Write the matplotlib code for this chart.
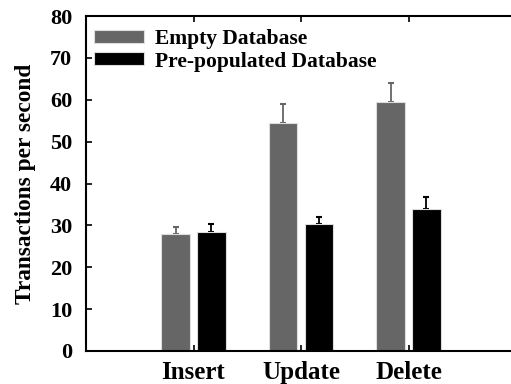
import matplotlib
matplotlib.use("Agg")
import matplotlib.pyplot as plt
import numpy as np

categories = ["Insert", "Update", "Delete"]
empty_vals = [27.9, 54.5, 59.5]
empty_err = [1.8, 4.4, 4.6]
prepop_vals = [28.3, 30.3, 34.0]
prepop_err = [2.0, 1.8, 2.8]
series_labels = ["Empty Database", "Pre-populated Database"]

plt.rcParams['font.family'] = ['Liberation Serif', 'DejaVu Serif']
plt.rcParams['font.weight'] = 'bold'

fig = plt.figure(figsize=(5.11, 3.84), dpi=100)
ax = fig.add_axes([86/511, 1-351/384, 430/511, 335/384])

x = np.arange(1, len(categories) + 1)
w = 0.266
off = 0.166
ax.bar(x - off, empty_vals, w, color='#666666', edgecolor='#dddddd', linewidth=0.8,
       label=series_labels[0], zorder=2)
ax.bar(x + off, prepop_vals, w, color='#000000', edgecolor='#dddddd', linewidth=0.8,
       label=series_labels[1], zorder=2)
ax.errorbar(x - off, empty_vals, yerr=[np.zeros(3), empty_err], fmt='none',
            ecolor='#666666', elinewidth=1.3, capsize=2.2, capthick=1.5, zorder=1)
ax.errorbar(x + off, prepop_vals, yerr=[np.zeros(3), prepop_err], fmt='none',
            ecolor='#000000', elinewidth=1.3, capsize=2.2, capthick=1.5, zorder=1)

ax.set_xlim(0, 4)
ax.set_ylim(0, 80)
ax.set_yticks(range(0, 81, 10))
ax.set_xticks(x)
ax.set_xticklabels(categories, fontsize=18, fontweight='bold')
ax.tick_params(axis='y', labelsize=16, direction='in', length=4, width=1.2, pad=10,
               right=False)
ax.tick_params(axis='x', direction='in', length=4, width=1.2, pad=7, top=True)
for lab in ax.get_yticklabels():
    lab.set_fontweight('bold')
for s in ['left', 'bottom', 'top']:
    ax.spines[s].set_linewidth(1.5)
ax.spines['right'].set_visible(False)

ax.set_ylabel("Transactions per second", fontsize=16.8, fontweight='bold', labelpad=10)

leg = ax.legend(loc='upper left', bbox_to_anchor=(0.0, 0.985), frameon=False,
                fontsize=15.5, handlelength=2.33, handleheight=0.55,
                handletextpad=0.5, labelspacing=0.12, borderaxespad=0.0,
                borderpad=0.37)
for t in leg.get_texts():
    t.set_fontweight('bold')

fig.savefig("out.png", dpi=100)
